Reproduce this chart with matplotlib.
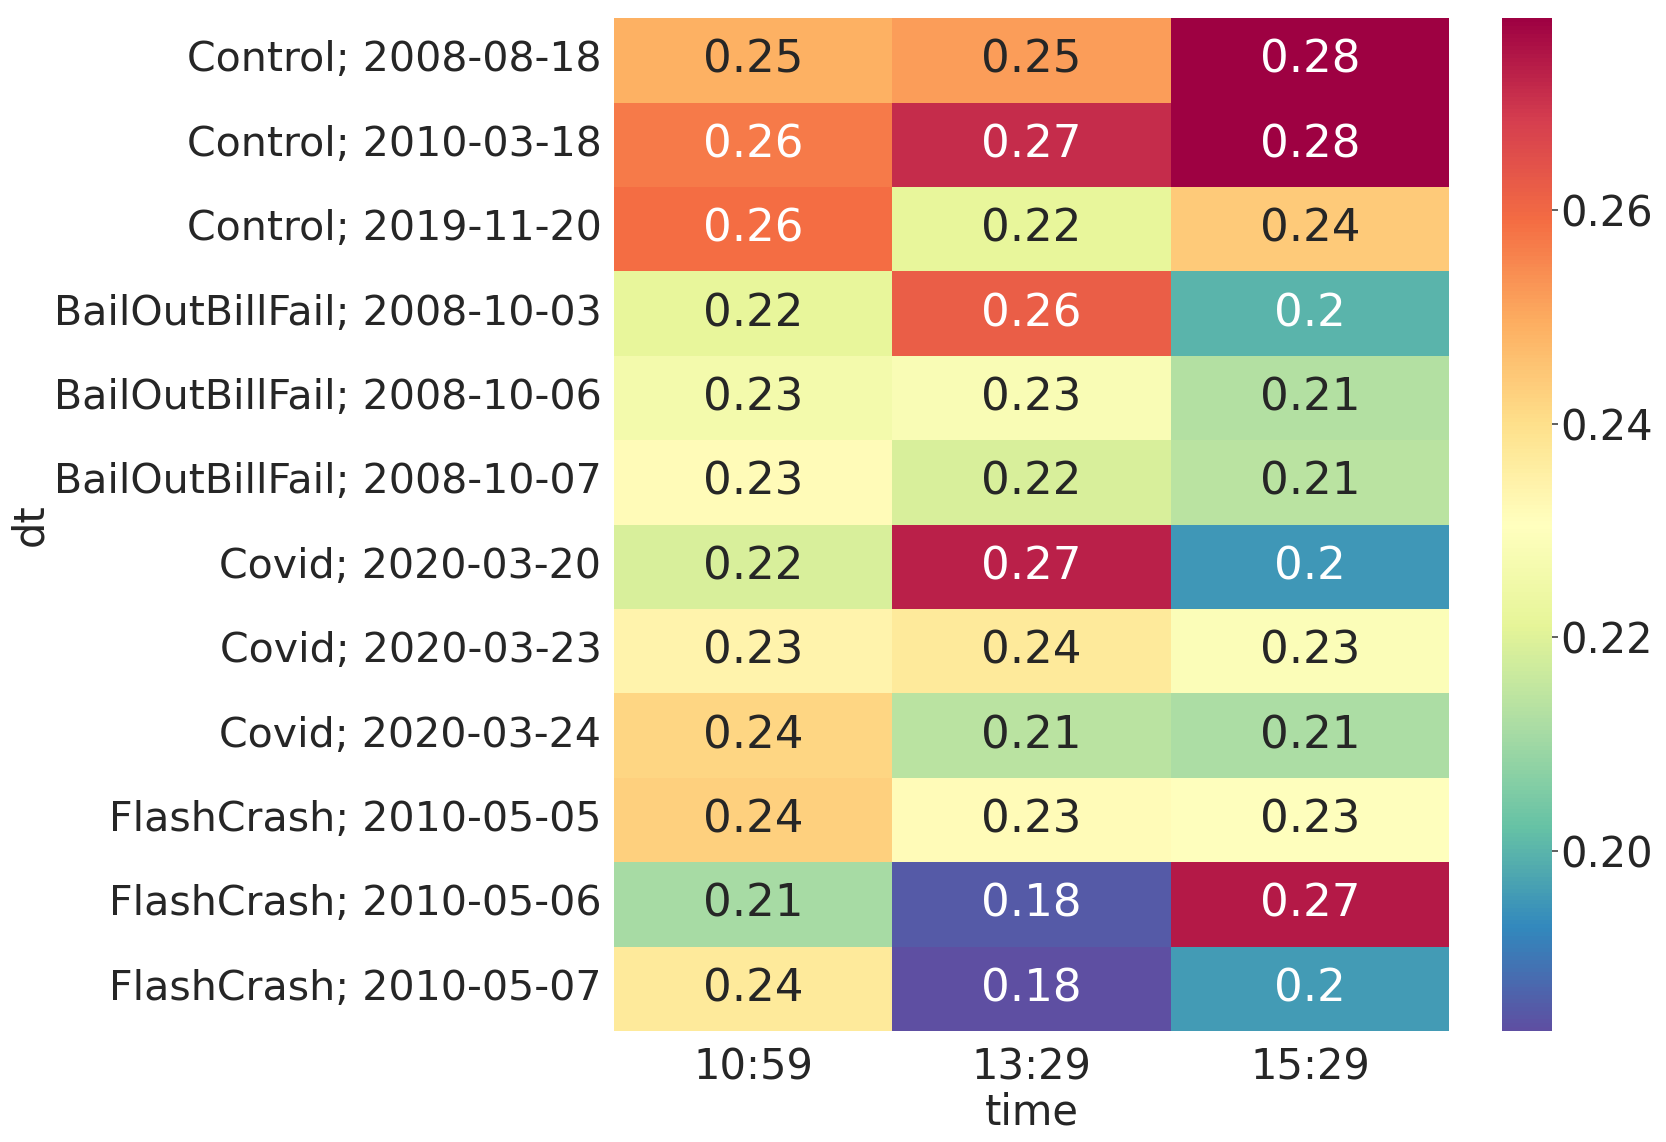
import matplotlib
matplotlib.use("Agg")
import matplotlib.pyplot as plt
import numpy as np
import pandas as pd
import seaborn as sns

rows = ["Control; 2008-08-18", "Control; 2010-03-18", "Control; 2019-11-20",
        "BailOutBillFail; 2008-10-03", "BailOutBillFail; 2008-10-06", "BailOutBillFail; 2008-10-07",
        "Covid; 2020-03-20", "Covid; 2020-03-23", "Covid; 2020-03-24",
        "FlashCrash; 2010-05-05", "FlashCrash; 2010-05-06", "FlashCrash; 2010-05-07"]
cols = ["10:59", "13:29", "15:29"]

v_1059 = [0.249, 0.257, 0.259, 0.222, 0.226, 0.232, 0.219, 0.234, 0.242, 0.243, 0.211, 0.237]
v_1329 = [0.252, 0.271, 0.222, 0.262, 0.228, 0.219, 0.273, 0.237, 0.214, 0.232, 0.185, 0.183]
v_1529 = [0.278, 0.278, 0.244, 0.200, 0.213, 0.214, 0.195, 0.229, 0.212, 0.230, 0.274, 0.196]

df = pd.DataFrame({"10:59": v_1059, "13:29": v_1329, "15:29": v_1529}, index=rows)
df.index.name = "dt"
df.columns.name = "time"

sns.set_theme(font_scale=2.5)
sns.set_style("white")
plt.rcParams['font.family'] = ['DejaVu Sans']

fig = plt.figure(figsize=(16.66, 11.42), dpi=100)
ax = fig.add_axes([0.3685, 0.0972, 0.8700 - 0.3685, 0.984 - 0.0972])
cax = fig.add_axes([0.9016, 0.0972, 0.9316 - 0.9016, 0.984 - 0.0972])

sns.heatmap(df, ax=ax, cbar_ax=cax, cmap="Spectral_r", annot=True,
            annot_kws={"fontsize": 32.5}, vmin=0.1831, vmax=0.2780)
ax.tick_params(axis='y', labelsize=29.6, length=0, pad=9)
ax.tick_params(axis='x', labelsize=30, length=0, pad=11)
ax.set_yticklabels(rows, rotation=0)
ax.set_xticklabels(cols, rotation=0)
ax.set_xlabel("time", fontsize=30, labelpad=2)
ax.set_ylabel("dt", fontsize=30, labelpad=2)
cax.set_yticks([0.20, 0.22, 0.24, 0.26])
cax.set_yticklabels(["0.20", "0.22", "0.24", "0.26"])
cax.tick_params(labelsize=30, length=4, width=1.2, color="#444444", right=True, pad=2)
for s in cax.spines.values():
    s.set_visible(False)

fig.savefig("out.png", dpi=100)
